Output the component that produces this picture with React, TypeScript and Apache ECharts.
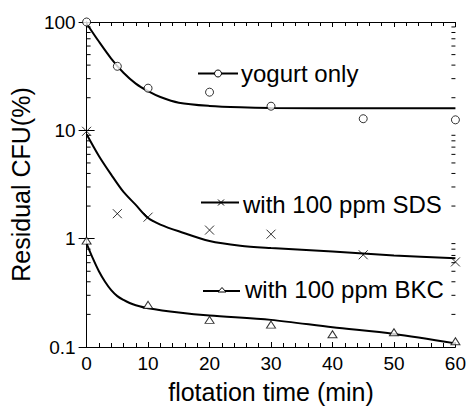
import React, { useEffect, useRef } from "react";
import * as echarts from "echarts";

// Measured points
const yogurtTime = [0, 5, 10, 20, 30, 45, 60];
const yogurtValues = [100, 39, 24.5, 22.5, 16.7, 12.8, 12.5];
const sdsTime = [0, 5, 10, 20, 30, 45, 60];
const sdsValues = [9.8, 1.7, 1.58, 1.2, 1.1, 0.71, 0.61];
const bkcTime = [0, 10, 20, 30, 40, 50, 60];
const bkcValues = [0.96, 0.245, 0.178, 0.161, 0.131, 0.137, 0.113];

// Fitted curves
const yogurtFitTime = [0, 2, 4, 6, 8, 10, 12, 15, 20, 25, 30, 45, 60];
const yogurtFitValues = [97, 66, 46, 34, 27, 23, 20.3, 18, 16.8, 16.3, 16.1, 16, 16];
const sdsFitTime = [0, 2, 4, 6, 8, 10, 12, 15, 20, 25, 30, 40, 50, 60];
const sdsFitValues = [9.2, 5.8, 3.9, 2.7, 2.05, 1.55, 1.35, 1.17, 0.95, 0.86, 0.82, 0.76, 0.7, 0.66];
const bkcFitTime = [0, 1, 2, 3, 4, 5, 6, 7, 8, 10, 15, 20, 30, 40, 50, 60];
const bkcFitValues = [0.9, 0.66, 0.5, 0.4, 0.335, 0.295, 0.272, 0.255, 0.243, 0.228, 0.208, 0.195, 0.178, 0.152, 0.132, 0.108];

// Axes
const yTickLabels = ["0.1", "1", "10", "100"];
const minorLogTicks = [
  0.2, 0.3, 0.4, 0.5, 0.6, 0.7, 0.8, 0.9,
  2, 3, 4, 5, 6, 7, 8, 9,
  20, 30, 40, 50, 60, 70, 80, 90,
];

const legendNames = ["yogurt only", "with 100 ppm SDS", "with 100 ppm BKC"];

const FONT = 'Arial, "Liberation Sans", sans-serif';

const zip = (a: number[], b: number[]) => a.map((t, i) => [t, b[i]]);

export default function App() {
  const ref = useRef<HTMLDivElement>(null);
  useEffect(() => {
    document.body.style.margin = "0";
    const chart = echarts.init(ref.current!, null, { renderer: "svg" });

    const markerStyle = { color: "#fff", borderColor: "#000", borderWidth: 1 };
    const curve = (data: number[][]) => ({
      type: "line",
      data,
      smooth: 0.3,
      showSymbol: false,
      symbol: "none",
      lineStyle: { color: "#000", width: 2 },
      z: 2,
      silent: true,
    });

    const legendText = (text: string, x: number, y: number) => ({
      type: "text",
      x,
      y,
      z: 100,
      style: { text, font: `24px ${FONT}`, fill: "#000", verticalAlign: "middle", align: "left" },
    });
    const legendLine = (x1: number, x2: number, y: number) => ({
      type: "line",
      z: 100,
      shape: { x1, y1: y, x2, y2: y },
      style: { stroke: "#000", lineWidth: 2 },
    });

    chart.setOption({
      animation: false,
      grid: { left: 73, right: 10, top: 22, bottom: 59, containLabel: false },
      xAxis: [
        {
          type: "value",
          min: 0,
          max: 60,
          interval: 10,
          position: "bottom",
          name: "flotation time (min)",
          nameLocation: "middle",
          nameGap: 32,
          nameTextStyle: { fontSize: 25, color: "#000", fontFamily: FONT },
          axisLine: { show: true, lineStyle: { color: "#000", width: 1 } },
          axisTick: { show: true, inside: true, length: 5, lineStyle: { color: "#000" } },
          minorTick: { show: true, splitNumber: 5, length: 4, lineStyle: { color: "#000" } },
          axisLabel: { fontSize: 19, color: "#000", fontFamily: FONT, margin: 7 },
          splitLine: { show: false },
        },
        {
          type: "value",
          min: 0,
          max: 60,
          interval: 10,
          position: "top",
          axisLine: { show: true, lineStyle: { color: "#000", width: 1 } },
          axisTick: { show: true, inside: true, length: 5, lineStyle: { color: "#000" } },
          minorTick: { show: true, splitNumber: 5, length: 4, lineStyle: { color: "#000" } },
          axisLabel: { show: false },
          splitLine: { show: false },
        },
      ],
      yAxis: [
        {
          type: "log",
          logBase: 10,
          min: 0.1,
          max: 100,
          position: "left",
          name: "Residual CFU(%)",
          nameLocation: "middle",
          nameGap: 38,
          nameTextStyle: { fontSize: 25, color: "#000", fontFamily: FONT },
          axisLine: { show: true, lineStyle: { color: "#000", width: 1 } },
          axisTick: { show: true, inside: true, length: 8, lineStyle: { color: "#000" } },
          axisLabel: {
            fontSize: 19,
            color: "#000",
            fontFamily: FONT,
            margin: 11,
            formatter: (v: number) => yTickLabels[Math.round(Math.log10(v)) + 1] ?? "",
          },
          splitLine: { show: false },
        },
        {
          type: "log",
          logBase: 10,
          min: 0.1,
          max: 100,
          position: "right",
          axisLine: { show: true, lineStyle: { color: "#000", width: 1 } },
          axisTick: { show: true, inside: true, length: 8, lineStyle: { color: "#000" } },
          axisLabel: { show: false },
          splitLine: { show: false },
        },
      ],
      series: [
        curve(zip(yogurtFitTime, yogurtFitValues)),
        curve(zip(sdsFitTime, sdsFitValues)),
        curve(zip(bkcFitTime, bkcFitValues)),
        {
          type: "scatter",
          name: legendNames[0],
          data: zip(yogurtTime, yogurtValues),
          symbol: "circle",
          symbolSize: 8,
          itemStyle: markerStyle,
          z: 5,
        },
        {
          type: "scatter",
          name: legendNames[1],
          data: zip(sdsTime, sdsValues),
          symbol: "path://M0,0L10,10M10,0L0,10",
          symbolSize: 9,
          itemStyle: { color: "none", borderColor: "#000", borderWidth: 1 },
          z: 5,
        },
        {
          type: "scatter",
          name: legendNames[2],
          data: zip(bkcTime, bkcValues),
          symbol: "triangle",
          symbolSize: [9, 7],
          itemStyle: markerStyle,
          z: 5,
        },
        {
          type: "custom",
          data: minorLogTicks.map((v) => [0, v]),
          encode: { x: 0, y: 1 },
          silent: true,
          z: 3,
          renderItem: (_p: any, api: any) => {
            const v = api.value(1);
            const l = api.coord([0, v]);
            const r = api.coord([60, v]);
            return {
              type: "group",
              children: [
                { type: "line", shape: { x1: l[0], y1: l[1], x2: l[0] + 4, y2: l[1] }, style: { stroke: "#000", lineWidth: 1 } },
                { type: "line", shape: { x1: r[0] - 4, y1: r[1], x2: r[0], y2: r[1] }, style: { stroke: "#000", lineWidth: 1 } },
              ],
            };
          },
        },
      ],
      graphic: [
        legendLine(198, 238, 73.5),
        { type: "circle", z: 101, shape: { cx: 218, cy: 73.5, r: 3.5 }, style: { fill: "#fff", stroke: "#000", lineWidth: 1 } },
        legendText(legendNames[0], 241, 73),
        legendLine(201, 239, 202.5),
        { type: "line", z: 101, shape: { x1: 218, y1: 199.5, x2: 224, y2: 205.5 }, style: { stroke: "#000", lineWidth: 1 } },
        { type: "line", z: 101, shape: { x1: 218, y1: 205.5, x2: 224, y2: 199.5 }, style: { stroke: "#000", lineWidth: 1 } },
        legendText(legendNames[1], 243, 204),
        legendLine(203, 240, 291),
        { type: "polygon", z: 101, shape: { points: [[222, 287.5], [226, 292], [218, 292]] }, style: { fill: "#fff", stroke: "#000", lineWidth: 1 } },
        legendText(legendNames[2], 245, 289),
      ],
    });
    return () => chart.dispose();
  }, []);
  return <div ref={ref} style={{ width: 469, height: 409 }} />;
}
